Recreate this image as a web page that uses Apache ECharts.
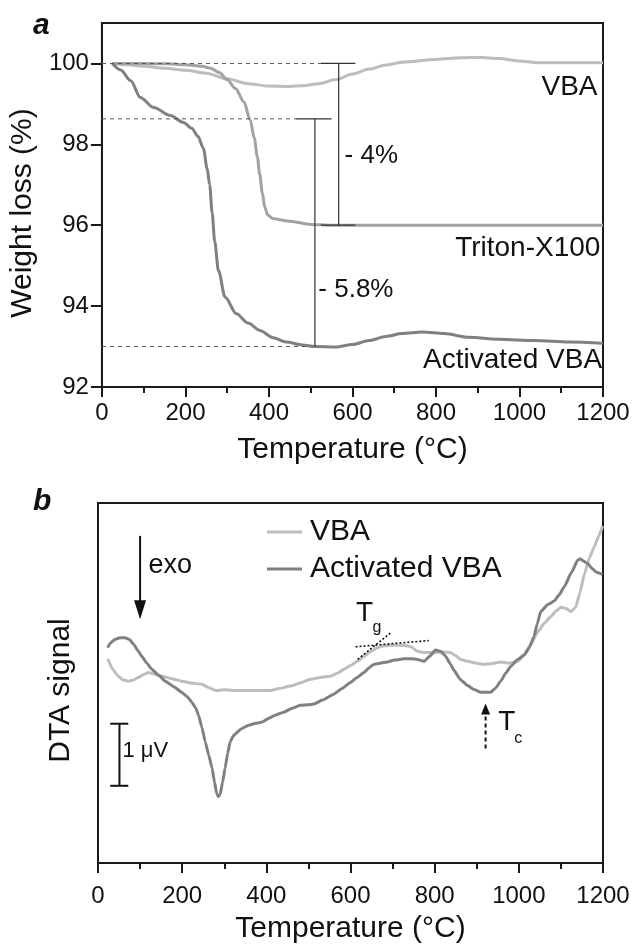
<!DOCTYPE html>
<html><head><meta charset="utf-8">
<script src="https://cdn.jsdelivr.net/npm/echarts@6/dist/echarts.min.js"></script>
<style>html,body{margin:0;padding:0;background:#fff}#c{width:633px;height:945px}</style>
</head><body><div id="c"></div>
<script>
// ---------- data ----------
const xTickValues = [0, 200, 400, 600, 800, 1000, 1200];
const tgaYTickValues = [92, 94, 96, 98, 100];

// (a) TGA weight loss (%) vs temperature (°C)
const tgaVBA = [[25,100.0],[60,99.97],[100,99.93],[150,99.88],[200,99.83],[250,99.76],[300,99.62],[350,99.5],[400,99.44],[450,99.43],[480,99.45],[520,99.5],[560,99.6],[600,99.74],[640,99.86],[680,99.96],[720,100.03],[800,100.1],[860,100.14],[910,100.15],[950,100.12],[1000,100.06],[1040,100.02],[1100,100.02],[1150,100.02],[1200,100.02]];
const tgaTriton = [[25,100.0],[100,100.0],[150,99.99],[200,99.97],[240,99.93],[260,99.88],[280,99.78],[300,99.6],[320,99.38],[340,99.05],[355,98.6],[365,98.15],[372,97.7],[378,97.25],[384,96.8],[390,96.45],[397,96.25],[410,96.16],[450,96.1],[500,96.02],[550,96.0],[700,96.0],[900,96.0],[1200,96.0]];
const tgaActivated = [[25,100.0],[45,99.84],[69,99.57],[92,99.16],[124,98.91],[164,98.71],[195,98.54],[215,98.4],[230,98.2],[243,97.9],[252,97.4],[258,97.0],[264,96.3],[270,95.6],[279,94.88],[295,94.22],[322,93.81],[350,93.58],[378,93.4],[410,93.22],[441,93.11],[480,93.04],[510,93.0],[560,92.99],[600,93.05],[640,93.15],[680,93.25],[719,93.32],[767,93.36],[820,93.32],[878,93.23],[950,93.18],[1036,93.15],[1120,93.11],[1200,93.08]];

// (b) DTA signal (µV, arbitrary offset) vs temperature (°C)
const dtaVBA = [[23,3.29],[35,3.12],[48,3.01],[60,2.95],[72,2.93],[85,2.95],[96,2.99],[110,3.04],[120,3.07],[135,3.04],[152,3.01],[175,2.97],[199,2.93],[220,2.9],[247,2.88],[265,2.82],[279,2.78],[300,2.79],[330,2.78],[350,2.78],[380,2.78],[410,2.78],[430,2.81],[457,2.85],[480,2.9],[505,2.96],[528,2.99],[552,3.01],[570,3.06],[584,3.12],[600,3.18],[616,3.25],[632,3.33],[648,3.41],[665,3.47],[679,3.5],[700,3.51],[720,3.51],[735,3.5],[745,3.48],[759,3.41],[775,3.39],[800,3.39],[820,3.4],[838,3.39],[850,3.34],[862,3.28],[878,3.25],[900,3.22],[917,3.2],[935,3.21],[957,3.24],[975,3.22],[989,3.23],[1000,3.26],[1013,3.36],[1028,3.52],[1044,3.71],[1060,3.86],[1076,3.97],[1090,4.07],[1100,4.12],[1112,4.1],[1124,4.05],[1135,4.12],[1145,4.35],[1156,4.66],[1168,4.92],[1179,5.09],[1190,5.27],[1199,5.43]];
const dtaActivated = [[23,3.47],[30,3.55],[40,3.6],[52,3.63],[64,3.63],[75,3.6],[85,3.52],[95,3.42],[104,3.33],[116,3.22],[128,3.12],[145,3.02],[160,2.93],[180,2.84],[199,2.75],[212,2.68],[223,2.59],[232,2.5],[239,2.38],[247,2.18],[255,1.95],[263,1.74],[271,1.53],[277,1.3],[282,1.12],[286,1.07],[290,1.1],[296,1.3],[302,1.53],[308,1.76],[314,1.95],[320,2.03],[326,2.08],[340,2.16],[358,2.22],[375,2.25],[390,2.27],[405,2.33],[421,2.38],[441,2.43],[460,2.49],[481,2.54],[500,2.55],[513,2.56],[535,2.63],[560,2.72],[580,2.81],[600,2.91],[616,2.99],[632,3.07],[645,3.15],[655,3.2],[670,3.22],[687,3.24],[705,3.27],[727,3.29],[745,3.29],[759,3.28],[775,3.25],[788,3.33],[802,3.43],[814,3.41],[825,3.34],[838,3.2],[846,3.1],[862,2.95],[878,2.86],[895,2.79],[910,2.75],[933,2.75],[945,2.82],[957,2.93],[969,3.06],[981,3.17],[997,3.28],[1013,3.35],[1025,3.47],[1036,3.65],[1044,3.86],[1052,4.05],[1068,4.16],[1084,4.22],[1096,4.32],[1108,4.45],[1125,4.68],[1140,4.88],[1146,4.9],[1155,4.86],[1164,4.82],[1175,4.74],[1183,4.69],[1199,4.65]];

// annotation anchors (data coordinates)
const guide100 = [[0,100],[524,100]];
const guide986 = [[0,98.63],[464,98.63]];
const guide93 = [[0,93.0],[500,93.0]];
const bracket4 = [[[524,100],[607,100]],[[567,100],[567,96]],[[524,96],[607,96]]];
const bracket58 = [[[464,98.63],[550,98.63]],[[510,98.63],[510,93.0]]];
const tgLines = [[[612,3.483],[786,3.584]],[[617,3.28],[695,3.707]]];
const scaleBar = [[[51,1.244],[51,2.244]],[[29,1.244],[72,1.244]],[[29,2.244],[72,2.244]]];
const exoShaft = [[100,5.27],[100,4.08]];
const exoHead = [100,4.08];
const tcShaft = [[921,1.845],[921,2.40]];
const tcHead = [921,2.48];

// ---------- chart ----------
const FONT = '"Liberation Sans", Arial, Helvetica, sans-serif';
const INK = '#1a1a1a';
const C_LIGHT = '#bdbdbd', C_MID = '#a2a2a2', C_DARK = '#808080';

function curve(name, idx, data, color, smooth) {
  return {type:'line', name, xAxisIndex:idx, yAxisIndex:idx, data, symbol:'none', showSymbol:false,
    smooth: smooth, smoothMonotone: 'x', lineStyle:{color, width:3}, itemStyle:{color}, z:3, silent:true};
}
function seg(idx, data, style) {
  return {type:'line', xAxisIndex:idx, yAxisIndex:idx, data, symbol:'none', showSymbol:false,
    lineStyle:Object.assign({color:'#333', width:1, type:'solid'}, style), z:4, silent:true, legendHoverLink:false};
}
function textMark(idx, pt, text, position, fontSize) {
  return {type:'scatter', xAxisIndex:idx, yAxisIndex:idx, data:[pt], symbolSize:1, silent:true,
    itemStyle:{color:'rgba(0,0,0,0)', opacity:1}, z:6,
    label:{show:true, formatter:text, position, distance:0, fontSize, color:'#111', opacity:1, fontFamily:FONT}};
}
function head(idx, pt, size, rot) {
  return {type:'scatter', xAxisIndex:idx, yAxisIndex:idx, data:[pt], symbol:'triangle', symbolSize:size,
    symbolRotate:rot, itemStyle:{color:'#111', opacity:1}, silent:true, z:6};
}

function xAx(idx, margin, gap) {
  return {type:'value', gridIndex:idx, min:0, max:1200, interval:200,
    axisLine:{show:true, onZero:false, lineStyle:{color:INK, width:2}},
    axisTick:{show:true, inside:false, length:10, lineStyle:{color:INK, width:2}},
    minorTick:{show:true, splitNumber:2, length:6, lineStyle:{color:INK, width:2}},
    splitLine:{show:false}, minorSplitLine:{show:false},
    axisLabel:{fontSize:24, color:'#111', margin, fontFamily:FONT, formatter: v => String(v)},
    name:'Temperature (\u00B0C)', nameLocation:'middle', nameGap:gap,
    nameTextStyle:{fontSize:30, color:'#111', fontFamily:FONT}};
}

const series = [];
// panel a guides
series.push(seg(0, guide100, {type:[4,4], color:'#555'}));
series.push(seg(0, guide986, {type:[4,4], color:'#555'}));
series.push(seg(0, guide93, {type:[4,4], color:'#555'}));
bracket4.forEach(s => series.push(seg(0, s, {color:'#333', width:1.2})));
bracket58.forEach(s => series.push(seg(0, s, {color:'#333', width:1.2})));
// panel a curves
series.push(curve('VBA (TGA)', 0, tgaVBA, C_LIGHT, 0.3));
series.push(curve('Triton-X100 (TGA)', 0, tgaTriton, C_MID, 0.3));
series.push(curve('Activated VBA (TGA)', 0, tgaActivated, C_DARK, 0.3));
// panel a texts
series.push(textMark(0, [1188, 99.42], 'VBA', 'left', 28));
series.push(textMark(0, [1195, 95.44], 'Triton-X100', 'left', 28));
series.push(textMark(0, [1199, 92.66], 'Activated VBA', 'left', 28));
series.push(textMark(0, [580, 97.72], '- 4%', 'right', 26));
series.push(textMark(0, [517, 94.41], '- 5.8%', 'right', 26));

// panel b curves
series.push(curve('VBA', 1, dtaVBA, C_LIGHT, 0.15));
series.push(curve('Activated VBA', 1, dtaActivated, C_DARK, 0.15));
// panel b annotations
tgLines.forEach(s => series.push(seg(1, s, {type:[2,2], color:'#111', width:1.6})));
scaleBar.forEach(s => series.push(seg(1, s, {color:'#111', width:2})));
series.push(seg(1, exoShaft, {color:'#111', width:2}));
series.push(head(1, exoHead, [12,19], 180));
series.push(seg(1, tcShaft, {type:[4,3], color:'#111', width:2}));
series.push(head(1, tcHead, [9,11], 0));
series.push(textMark(1, [119, 4.79], 'exo', 'right', 27));
series.push(textMark(1, [57, 1.81], '1 \u03BCV', 'right', 22));
series.push(textMark(1, [612, 4.03], 'T', 'right', 28));
series.push(textMark(1, [651, 3.80], 'g', 'right', 16));
series.push(textMark(1, [950, 2.27], 'T', 'right', 28));
series.push(textMark(1, [988, 2.01], 'c', 'right', 16));

const option = {
  animation:false,
  backgroundColor:'#ffffff',
  textStyle:{fontFamily:FONT},
  grid:[
    {left:98, top:23, width:505, height:364, show:true, borderColor:INK, borderWidth:2, backgroundColor:'transparent'},
    {left:98, top:503, width:505, height:363, show:true, borderColor:INK, borderWidth:2, backgroundColor:'transparent'}
  ],
  xAxis:[xAx(0,14,48), xAx(1,21,51)],
  yAxis:[
    {type:'value', gridIndex:0, min:92, max:101, interval:1,
      axisLine:{show:true, onZero:false, lineStyle:{color:INK, width:2}},
      axisTick:{show:true, inside:false, length:11, lineStyle:{color:INK, width:2}, customValues:tgaYTickValues},
      splitLine:{show:false},
      axisLabel:{fontSize:24, color:'#111', margin:13, fontFamily:FONT, customValues:tgaYTickValues},
      name:'Weight loss (%)', nameLocation:'middle', nameGap:55,
      nameTextStyle:{fontSize:30, color:'#111', fontFamily:FONT, padding:[0,16,0,0]}},
    {type:'value', gridIndex:1, min:0, max:5.8,
      axisLine:{show:true, onZero:false, lineStyle:{color:INK, width:2}},
      axisTick:{show:false}, axisLabel:{show:false}, splitLine:{show:false},
      name:'DTA signal', nameLocation:'middle', nameGap:22,
      nameTextStyle:{fontSize:30, color:'#111', fontFamily:FONT, padding:[0,15,0,0]}}
  ],
  legend:{data:[{name:'VBA', icon:'rect'},{name:'Activated VBA', icon:'rect'}], orient:'vertical', left:267, top:517, padding:0,
    itemWidth:35, itemHeight:3, itemGap:7,
    selectedMode:false, textStyle:{fontSize:30, color:'#111', fontFamily:FONT, padding:[0,0,0,3]}},
  graphic:[
    {type:'text', left:33, top:11, style:{text:'a', font:'italic bold 30px "Liberation Sans", Arial, sans-serif', fill:'#111'}},
    {type:'text', left:33, top:487, style:{text:'b', font:'italic bold 30px "Liberation Sans", Arial, sans-serif', fill:'#111'}}
  ],
  series
};
const chart = echarts.init(document.getElementById('c'), null, {renderer:'canvas'});
chart.setOption(option);
</script>
</body></html>
